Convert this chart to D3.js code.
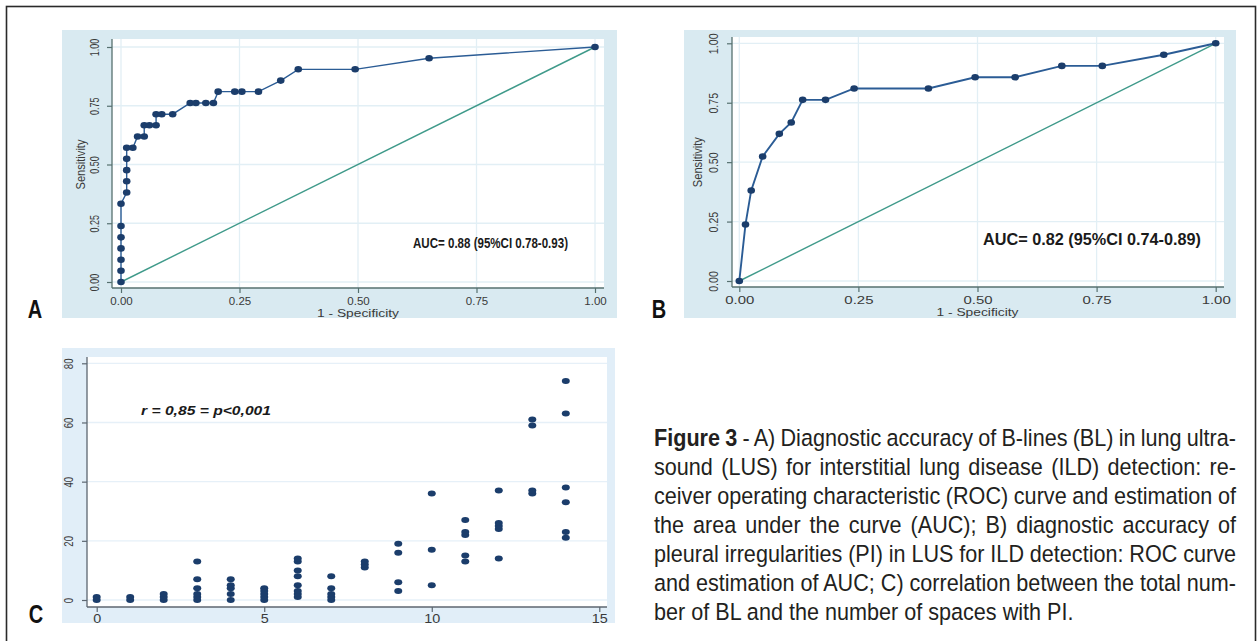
<!DOCTYPE html>
<html>
<head>
<meta charset="utf-8">
<script src="https://cdn.jsdelivr.net/npm/d3@7"></script>
<style>
  body { margin: 0; background: #fff; }
  svg { display: block; }
  text { font-family: "Liberation Sans", Arial, sans-serif; }
</style>
</head>
<body>
<svg width="1260" height="641"></svg>
<script>
// ROC curve A: B-lines
const rocAFpr  = [0, 0, 0, 0, 0, 0, 0, 0.012, 0.012, 0.012, 0.012, 0.012, 0.025, 0.035, 0.049, 0.049, 0.06, 0.074, 0.074, 0.086, 0.109,
                  0.146, 0.158, 0.179, 0.195, 0.205, 0.24, 0.255, 0.29, 0.337, 0.374, 0.494, 0.65, 1];
const rocASens = [0, 0.048, 0.095, 0.143, 0.19, 0.238, 0.333, 0.381, 0.429, 0.476, 0.524, 0.571, 0.571, 0.619, 0.619, 0.667, 0.667, 0.667, 0.714, 0.714, 0.714,
                  0.762, 0.762, 0.762, 0.762, 0.81, 0.81, 0.81, 0.81, 0.857, 0.905, 0.905, 0.952, 1];
// ROC curve B: pleural irregularities
const rocBFpr  = [0, 0.013, 0.025, 0.049, 0.084, 0.109, 0.133, 0.181, 0.241, 0.397, 0.495, 0.579, 0.677, 0.762, 0.891, 1];
const rocBSens = [0, 0.238, 0.381, 0.524, 0.619, 0.667, 0.762, 0.762, 0.81, 0.81, 0.857, 0.857, 0.905, 0.905, 0.952, 1];
const rocTicks = [0, 0.25, 0.5, 0.75, 1];
const aucA = 'AUC= 0.88 (95%CI 0.78-0.93)';
const aucB = 'AUC= 0.82 (95%CI 0.74-0.89)';

// scatter C: number of spaces with PI (x) vs total BL (y)
const scatterX = [0, 0, 1, 1, 2, 2, 2, 3, 3, 3, 3, 3, 3, 4, 4, 4, 4, 4, 5, 5, 5, 5, 5,
                  6, 6, 6, 6, 6, 6, 6, 6, 7, 7, 7, 7, 7, 8, 8, 8, 9, 9, 9, 9, 10, 10, 10,
                  11, 11, 11, 11, 11, 12, 12, 12, 12, 12, 13, 13, 13, 13, 14, 14, 14, 14, 14, 14];
const scatterY = [0, 1, 0, 1, 0, 1, 2, 0, 1, 2, 4, 7, 13, 0, 2, 4, 5, 7, 0, 1, 2, 3, 4,
                  1, 2, 3, 5, 8, 10, 13, 14, 0, 1, 2, 4, 8, 11, 12, 13, 3, 6, 16, 19, 5, 17, 36,
                  13, 15, 22, 23, 27, 14, 24, 25, 26, 37, 36, 37, 59, 61, 21, 23, 33, 38, 63, 74];
const scatterXTicks = [0, 5, 10, 15];
const scatterYTicks = [0, 20, 40, 60, 80];
const corrText = 'r = 0,85 = p<0,001';

const captionLines = [
  'A) Diagnostic accuracy of B-lines (BL) in lung ultra-',
  'sound (LUS) for interstitial lung disease (ILD) detection: re-',
  'ceiver operating characteristic (ROC) curve and estimation of',
  'the area under the curve (AUC); B) diagnostic accuracy of',
  'pleural irregularities (PI) in LUS for ILD detection: ROC curve',
  'and estimation of AUC; C) correlation between the total num-',
  'ber of BL and the number of spaces with PI.'
];

const svg = d3.select('svg');
svg.append('rect').attr('width', 1260).attr('height', 641).attr('fill', '#fff');
svg.append('rect')
  .attr('x', 6.5).attr('y', 6.5).attr('width', 1249).attr('height', 700)
  .attr('fill', 'none').attr('stroke', '#2a2a2a').attr('stroke-width', 1.6);

const axisColor = '#56706f';
const gridColor = '#e2eff5';
const navy = '#1b3d6b';

function box(g, b, fill) {
  g.append('rect')
    .attr('x', b[0]).attr('y', b[1])
    .attr('width', b[2] - b[0]).attr('height', b[3] - b[1])
    .attr('fill', fill);
}

function styleAxis(a, size) {
  a.attr('font-family', '"Liberation Sans", Arial, sans-serif')
    .attr('font-size', size)
    .attr('color', axisColor);
  a.selectAll('line').attr('stroke-width', 1.2);
  a.selectAll('text').attr('fill', '#3a3a3a');
  a.select('.domain').remove();
}

function rocPanel(p) {
  const g = svg.append('g');
  box(g, p.bg, '#d9eaf1');
  box(g, p.plot, '#fff');

  const x = d3.scaleLinear().domain([0, 1]).range(p.xr);
  const y = d3.scaleLinear().domain([0, 1]).range(p.yr);

  g.append('g').selectAll('line').data(rocTicks).join('line')
    .attr('x1', d => x(d)).attr('x2', d => x(d))
    .attr('y1', p.plot[1]).attr('y2', p.plot[3])
    .attr('stroke', gridColor).attr('stroke-width', 1.3);
  g.append('g').selectAll('line').data(rocTicks).join('line')
    .attr('y1', d => y(d)).attr('y2', d => y(d))
    .attr('x1', p.plot[0]).attr('x2', p.plot[2])
    .attr('stroke', gridColor).attr('stroke-width', 1.3);

  // chance line
  g.append('line')
    .attr('x1', x(0)).attr('y1', y(0)).attr('x2', x(1)).attr('y2', y(1))
    .attr('stroke', '#3f9a8a').attr('stroke-width', 1.4);

  const pts = p.fpr.map((f, i) => [f, p.sens[i]]);
  g.append('path').datum(pts)
    .attr('d', d3.line().x(d => x(d[0])).y(d => y(d[1])))
    .attr('fill', 'none').attr('stroke', '#2b5c95').attr('stroke-width', p.lw);
  g.append('g').selectAll('ellipse').data(pts).join('ellipse')
    .attr('cx', d => x(d[0])).attr('cy', d => y(d[1]))
    .attr('rx', 3.8).attr('ry', 3.3).attr('fill', navy);

  // axis lines
  g.append('line').attr('x1', p.plot[0]).attr('x2', p.plot[0]).attr('y1', p.plot[1]).attr('y2', p.plot[3])
    .attr('stroke', axisColor).attr('stroke-width', 1.3);
  g.append('line').attr('x1', p.plot[0]).attr('x2', p.plot[2]).attr('y1', p.plot[3]).attr('y2', p.plot[3])
    .attr('stroke', axisColor).attr('stroke-width', 1.3);

  const ax = g.append('g').attr('transform', `translate(0,${p.plot[3]})`)
    .call(d3.axisBottom(x).tickValues(rocTicks).tickFormat(d3.format('.2f')).tickSize(5).tickPadding(4));
  styleAxis(ax, 11.5);
  ax.selectAll('text').attr('transform', `scale(${p.xStretch},1)`);

  const ay = g.append('g').attr('transform', `translate(${p.plot[0]},0)`)
    .call(d3.axisLeft(y).tickValues(rocTicks).tickFormat(d3.format('.2f')).tickSize(5));
  styleAxis(ay, 12.5);
  ay.selectAll('text')
    .attr('x', null).attr('dy', null)
    .attr('text-anchor', 'middle')
    .attr('transform', `translate(${p.yLab},0) rotate(-90) scale(${p.yStretch},1)`);

  g.append('text')
    .attr('transform', `translate(${p.titleX},${(p.yr[0] + p.yr[1]) / 2}) rotate(-90)`)
    .attr('text-anchor', 'middle').attr('font-size', 12).attr('fill', '#3a3a3a')
    .attr('textLength', 50).attr('lengthAdjust', 'spacingAndGlyphs')
    .text('Sensitivity');
  g.append('text')
    .attr('x', x(0.5)).attr('y', p.titleY)
    .attr('text-anchor', 'middle').attr('font-size', 11.5).attr('fill', '#3a3a3a')
    .attr('textLength', 82).attr('lengthAdjust', 'spacingAndGlyphs')
    .text('1 - Specificity');

  g.append('text')
    .attr('x', p.auc[0]).attr('y', p.auc[1])
    .attr('font-size', p.auc[3]).attr('font-weight', 'bold').attr('fill', '#1a1a1a')
    .attr('textLength', p.auc[2]).attr('lengthAdjust', 'spacingAndGlyphs')
    .text(p.aucText);
}

rocPanel({
  bg: [62, 30, 617, 318], plot: [112, 39, 604, 288],
  xr: [121, 595], yr: [282, 47],
  fpr: rocAFpr, sens: rocASens, lw: 1.4,
  yLab: -13, yStretch: 0.72, xStretch: 1.0, titleX: 85, titleY: 317,
  auc: [413, 248, 155, 14], aucText: aucA
});
rocPanel({
  bg: [684, 30, 1236, 318], plot: [732, 37, 1224, 287],
  xr: [739.3, 1215.7], yr: [281, 43.3],
  fpr: rocBFpr, sens: rocBSens, lw: 1.9,
  yLab: -14, yStretch: 0.85, xStretch: 1.3, titleX: 702, titleY: 316,
  auc: [983, 245, 218, 16], aucText: aucB
});

// panel C scatter
(function () {
  const g = svg.append('g');
  const plot = [87, 357, 607, 607];
  box(g, [62, 348, 615, 623], '#e1eef8');
  box(g, plot, '#fff');

  const x = d3.scaleLinear().domain([0, 15]).range([96.7, 599.3]);
  const y = d3.scaleLinear().domain([0, 80]).range([600, 363.3]);

  g.append('g').selectAll('line').data(scatterYTicks).join('line')
    .attr('y1', d => y(d)).attr('y2', d => y(d))
    .attr('x1', plot[0]).attr('x2', plot[2])
    .attr('stroke', '#e6f0f8').attr('stroke-width', 1.3);

  g.append('g').selectAll('ellipse').data(scatterX).join('ellipse')
    .attr('cx', d => x(d)).attr('cy', (d, i) => y(scatterY[i]))
    .attr('rx', 4).attr('ry', 3).attr('fill', navy);

  g.append('line').attr('x1', plot[0]).attr('x2', plot[0]).attr('y1', plot[1]).attr('y2', plot[3])
    .attr('stroke', '#5c6670').attr('stroke-width', 1.3);
  g.append('line').attr('x1', plot[0]).attr('x2', plot[2]).attr('y1', plot[3]).attr('y2', plot[3])
    .attr('stroke', '#5c6670').attr('stroke-width', 1.3);

  const ax = g.append('g').attr('transform', `translate(0,${plot[3]})`)
    .call(d3.axisBottom(x).tickValues(scatterXTicks).tickSize(5).tickPadding(2));
  styleAxis(ax, 12);
  ax.attr('color', '#5c6670');
  ax.selectAll('text').attr('transform', 'scale(1.2,1)');

  const ay = g.append('g').attr('transform', `translate(${plot[0]},0)`)
    .call(d3.axisLeft(y).tickValues(scatterYTicks).tickSize(5));
  styleAxis(ay, 12);
  ay.attr('color', '#5c6670');
  ay.selectAll('text')
    .attr('x', null).attr('dy', null)
    .attr('text-anchor', 'middle')
    .attr('transform', 'translate(-14,0) rotate(-90) scale(0.8,1)');

  g.append('text')
    .attr('x', 141).attr('y', 415)
    .attr('font-size', 12).attr('font-weight', 'bold').attr('font-style', 'italic').attr('fill', '#1a1a1a')
    .attr('textLength', 130).attr('lengthAdjust', 'spacingAndGlyphs')
    .text(corrText);
})();

// panel letters
[['A', 35, 318], ['B', 659, 318], ['C', 36, 623]].forEach(([t, cx, by]) => {
  svg.append('text')
    .attr('transform', `translate(${cx},${by}) scale(0.8,1)`)
    .attr('text-anchor', 'middle').attr('font-size', 25).attr('font-weight', 'bold').attr('fill', '#111')
    .text(t);
});

// caption, justified
const capX = 654, capW = 582, capSx = 0.92, capSize = 23.5, capTop = 446, capStep = 29;
captionLines.forEach((line, i) => {
  const g = svg.append('g').attr('transform', `translate(${capX},${capTop + i * capStep}) scale(${capSx},1)`);
  const t = g.append('text').attr('font-size', capSize).attr('fill', '#231f20');
  if (i === 0) {
    t.append('tspan').attr('font-weight', 'bold').text('Figure 3');
    t.append('tspan').text(' - ' + line);
  } else {
    t.text(line);
  }
  if (i < captionLines.length - 1) {
    const natural = t.node().getComputedTextLength();
    const spaces = (t.text().match(/ /g) || []).length;
    const extra = (capW / capSx - natural) / spaces;
    t.style('word-spacing', extra + 'px');
  }
});
</script>
</body>
</html>
